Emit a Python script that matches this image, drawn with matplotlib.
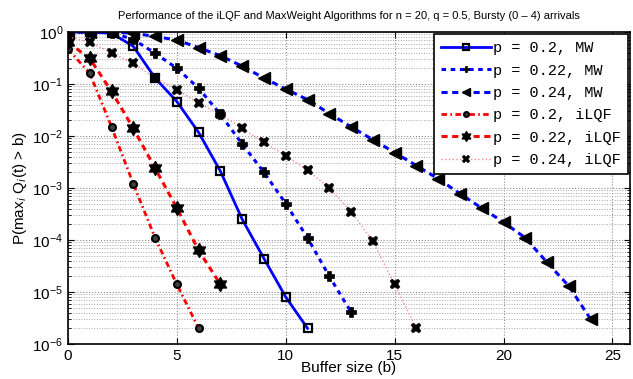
import numpy as np
import matplotlib
matplotlib.use("Agg")
from matplotlib import pyplot as plt
from matplotlib.path import Path
from matplotlib.ticker import LogLocator, NullFormatter

# data (buffer size b -> P(max_i Q_i(t) > b))
mw_02 = [1.0, 0.99, 0.95, 0.53, 0.13, 0.046, 0.0117, 2.1e-3, 2.5e-4, 4.4e-5, 8.0e-6, 2.0e-6]
mw_022 = [1.0, 1.0, 0.97, 0.72, 0.39, 0.20, 0.083, 0.026, 0.0070, 0.0020, 5.0e-4,
          1.1e-4, 2.0e-5, 4.1e-6]
mw_024 = [1.0, 1.0, 1.0, 0.95, 0.82, 0.70, 0.50, 0.35, 0.22, 0.13, 0.08, 0.05, 0.027,
          0.015, 0.0085, 0.0048, 0.0027, 0.0015, 7.8e-4, 4.1e-4, 2.2e-4, 1.1e-4,
          3.7e-5, 1.3e-5, 3.0e-6]
ilqf_02 = [0.47, 0.16, 0.015, 1.2e-3, 1.1e-4, 1.4e-5, 2.0e-6]
ilqf_022 = [0.63, 0.31, 0.072, 0.014, 0.0024, 4.1e-4, 6.3e-5, 1.4e-5]
ilqf_024 = [0.8, 0.64, 0.40, 0.25, 0.13, 0.078, 0.043, 0.026, 0.014, 0.0075, 0.0042,
            0.0022, 1.0e-3, 3.5e-4, 9.4e-5, 1.4e-5, 2.0e-6]

labels = ["p = 0.2, MW", "p = 0.22, MW", "p = 0.24, MW",
          "p = 0.2, iLQF", "p = 0.22, iLQF", "p = 0.24, iLQF"]

# hexagram marker (two overlapping triangles), like matlab's 'h'
ang = np.deg2rad(90 + 30 * np.arange(12))
rad = np.where(np.arange(12) % 2 == 0, 1.0, 1 / np.sqrt(3))
hexagram = Path(np.column_stack([rad * np.cos(ang), rad * np.sin(ang)]).tolist()
                + [[0, 1]], closed=True)

plt.rcParams['font.family'] = ['Liberation Sans', 'DejaVu Sans']
plt.rcParams['mathtext.fontset'] = 'custom'
plt.rcParams['mathtext.rm'] = 'Liberation Sans'

fig = plt.figure(figsize=(6.33, 3.79), dpi=100)
ax = fig.add_axes([0.1074, 0.0923, 0.8876, 0.8233])

ax.plot(range(len(mw_02)), mw_02, color='blue', linestyle='-', linewidth=2,
        marker='s', markersize=6, markerfacecolor='none', markeredgecolor='k',
        markeredgewidth=1.6, label=labels[0])
ax.plot(range(len(mw_022)), mw_022, color='blue', linestyle=(0, (1.5, 1.5)), linewidth=2.2,
        marker='P', markersize=7, markerfacecolor='k', markeredgecolor='k',
        markeredgewidth=0.5, label=labels[1])
ax.plot(range(len(mw_024)), mw_024, color='blue', linestyle=(0, (2, 1.5)), linewidth=2.2,
        marker='<', markersize=8, markerfacecolor='k', markeredgecolor='k',
        label=labels[2])
ax.plot(range(len(ilqf_02)), ilqf_02, color='red', linestyle=(0, (2, 1.2, 0.6, 1.2)),
        linewidth=2, marker='o', markersize=5, markerfacecolor='0.25', markeredgecolor='k',
        markeredgewidth=1.5, label=labels[3])
ax.plot(range(len(ilqf_022)), ilqf_022, color='red', linestyle=(0, (2, 1.5)), linewidth=2.2,
        marker=hexagram, markersize=10, markerfacecolor='k', markeredgecolor='k',
        label=labels[4])
ax.plot(range(len(ilqf_024)), ilqf_024, color=(1.0, 0.55, 0.55), linestyle=':', linewidth=1,
        marker='X', markersize=7.5, markerfacecolor='k', markeredgecolor='k',
        markeredgewidth=0.3, label=labels[5])

ax.set_yscale('log')
ax.set_ylim(1e-6, 1)
ax.set_xlim(0, 25.8)
ax.set_xticks([0, 5, 10, 15, 20, 25])
ax.yaxis.set_major_locator(LogLocator(base=10, numticks=10))
ax.yaxis.set_minor_locator(LogLocator(base=10, subs=np.arange(2, 10), numticks=100))
ax.yaxis.set_minor_formatter(NullFormatter())

ax.grid(True, which='major', linestyle=':', color='0.55', linewidth=0.8)
ax.grid(True, which='minor', axis='y', linestyle=':', color='0.65', linewidth=0.7)
ax.tick_params(which='both', direction='in', top=True, right=True, labelsize=11)
ax.tick_params(which='major', length=4)
ax.tick_params(which='minor', length=2)
for s in ax.spines.values():
    s.set_linewidth(1.2)

ax.set_title("Performance of the iLQF and MaxWeight Algorithms for n = 20, q = 0.5, Bursty (0 \u2013 4) arrivals",
             fontsize=8, pad=9)
ax.set_xlabel("Buffer size (b)", fontsize=11, labelpad=-1)
ax.set_ylabel("P(max$_{i}$ Q$_{i}$(t) > b)", fontsize=11, labelpad=2)

leg = ax.legend(loc='upper right', prop={'family': 'Liberation Mono', 'size': 11},
                fancybox=False, framealpha=1, edgecolor='k', handlelength=3.3,
                handletextpad=0.1, borderpad=0.45, labelspacing=0.55,
                borderaxespad=0.15, markerscale=0.7)
leg.get_frame().set_linewidth(1.2)

fig.savefig("out.png", dpi=100)
